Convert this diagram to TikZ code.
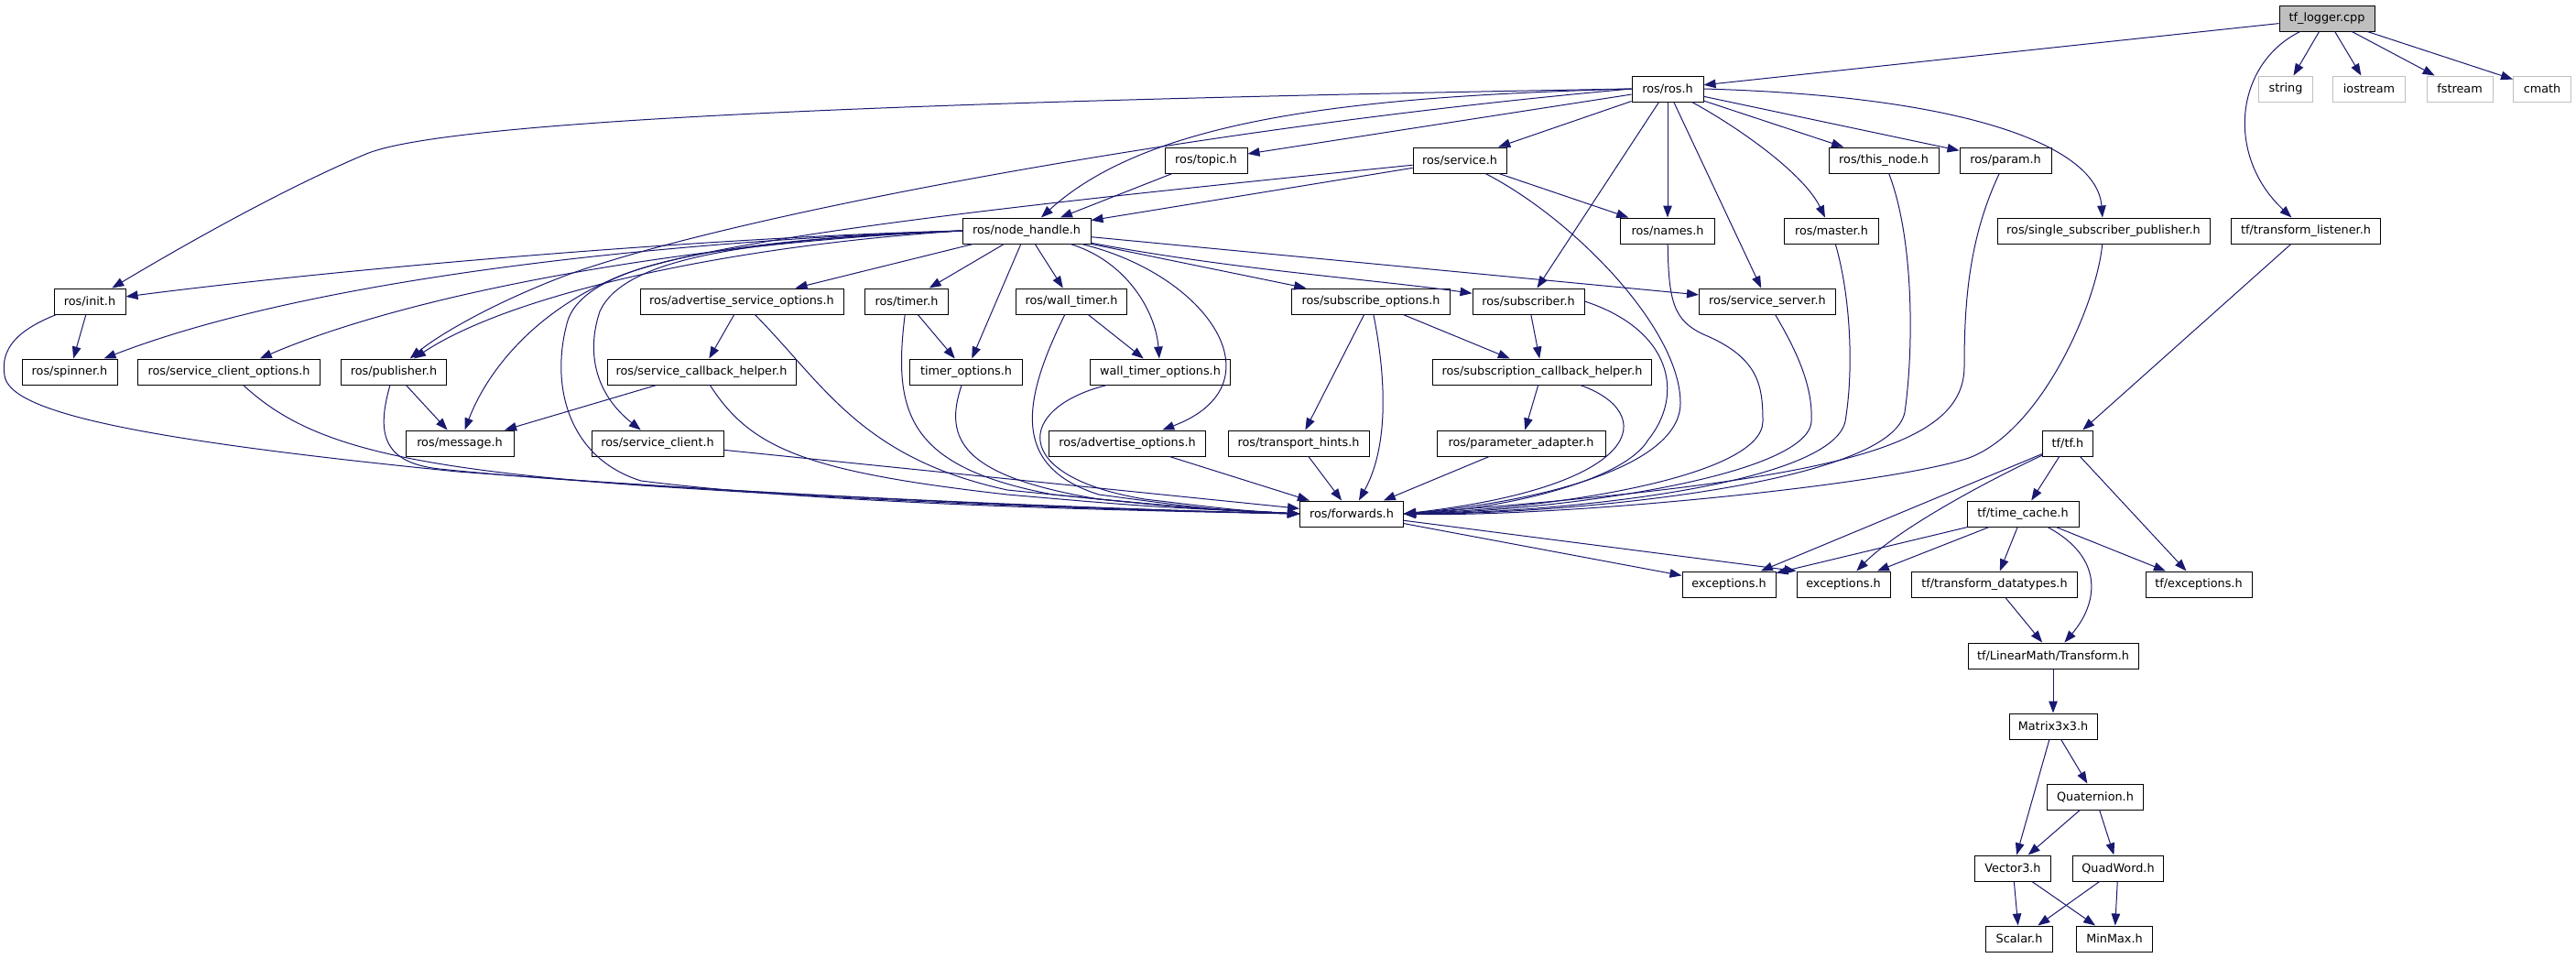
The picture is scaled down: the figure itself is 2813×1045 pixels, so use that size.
\documentclass[tikz,border=0pt]{standalone}
\usepackage{fontspec}
\setmainfont{DejaVu Sans}
\usetikzlibrary{arrows.meta}
\definecolor{edgec}{HTML}{191970}
\definecolor{grayc}{HTML}{BFBFBF}
\begin{document}
\begin{tikzpicture}[x=1pt,y=-1pt,
  box/.style={draw=black, line width=1pt, fill=white, minimum height=28pt, inner sep=0pt, font=\fontsize{12.8}{15}\selectfont, text=black},
  gbox/.style={box, draw=grayc},
  root/.style={box, fill=grayc},
  e/.style={draw=edgec, line width=1pt, -{Triangle[length=13pt,width=9.5pt]}}]
\fill[white] (0,0) rectangle (2813,1045);
\useasboundingbox (0,0) rectangle (2813,1045);
% nodes
\node[root, minimum width=104pt] (logger) at (2541,20) {tf\_logger.cpp};
\node[box, minimum width=78pt] (ros) at (1821,97) {ros/ros.h};
\node[gbox, minimum width=59pt] (string) at (2496,97) {string};
\node[gbox, minimum width=79pt] (iostream) at (2587,97) {iostream};
\node[gbox, minimum width=72pt] (fstream) at (2686,97) {fstream};
\node[gbox, minimum width=63pt] (cmath) at (2776,97) {cmath};
\node[box, minimum width=90pt] (topic) at (1317,175) {ros/topic.h};
\node[box, minimum width=102pt] (service) at (1594,175) {ros/service.h};
\node[box, minimum width=120pt] (thisnode) at (2057,175) {ros/this\_node.h};
\node[box, minimum width=100pt] (param) at (2190,175) {ros/param.h};
\node[box, minimum width=140pt] (nh) at (1121,252) {ros/node\_handle.h};
\node[box, minimum width=103pt] (names) at (1821,252) {ros/names.h};
\node[box, minimum width=103pt] (master) at (2000,252) {ros/master.h};
\node[box, minimum width=232pt] (ssp) at (2297,252) {ros/single\_subscriber\_publisher.h};
\node[box, minimum width=163pt] (tl) at (2518,252) {tf/transform\_listener.h};
\node[box, minimum width=78pt] (init) at (98,329) {ros/init.h};
\node[box, minimum width=222pt] (aso) at (810,329) {ros/advertise\_service\_options.h};
\node[box, minimum width=91pt] (timer) at (990,329) {ros/timer.h};
\node[box, minimum width=121pt] (walltimer) at (1170,329) {ros/wall\_timer.h};
\node[box, minimum width=173pt] (subopt) at (1497,329) {ros/subscribe\_options.h};
\node[box, minimum width=122pt] (subscriber) at (1669,329) {ros/subscriber.h};
\node[box, minimum width=149pt] (sserver) at (1930,329) {ros/service\_server.h};
\node[box, minimum width=104pt] (spinner) at (76,406) {ros/spinner.h};
\node[box, minimum width=199pt] (sco) at (250,406) {ros/service\_client\_options.h};
\node[box, minimum width=115pt] (publisher) at (430,406) {ros/publisher.h};
\node[box, minimum width=206pt] (sch) at (766,406) {ros/service\_callback\_helper.h};
\node[box, minimum width=123pt] (timeropt) at (1055,406) {timer\_options.h};
\node[box, minimum width=153pt] (wtopt) at (1267,406) {wall\_timer\_options.h};
\node[box, minimum width=239pt] (subcb) at (1684,406) {ros/subscription\_callback\_helper.h};
\node[box, minimum width=118pt] (message) at (502,484) {ros/message.h};
\node[box, minimum width=144pt] (sclient) at (718,484) {ros/service\_client.h};
\node[box, minimum width=171pt] (advopt) at (1231,484) {ros/advertise\_options.h};
\node[box, minimum width=154pt] (transport) at (1418,484) {ros/transport\_hints.h};
\node[box, minimum width=184pt] (paramadapt) at (1661,484) {ros/parameter\_adapter.h};
\node[box, minimum width=55pt] (tftf) at (2258,484) {tf/tf.h};
\node[box, minimum width=113pt] (forwards) at (1476,561) {ros/forwards.h};
\node[box, minimum width=122pt] (timecache) at (2209,561) {tf/time\_cache.h};
\node[box, minimum width=102pt] (exc1) at (1888,638) {exceptions.h};
\node[box, minimum width=102pt] (exc2) at (2013,638) {exceptions.h};
\node[box, minimum width=181pt] (tdt) at (2178,638) {tf/transform\_datatypes.h};
\node[box, minimum width=116pt] (tfexc) at (2401,638) {tf/exceptions.h};
\node[box, minimum width=186pt] (transform) at (2242,716) {tf/LinearMath/Transform.h};
\node[box, minimum width=96pt] (matrix) at (2242,793) {Matrix3x3.h};
\node[box, minimum width=105pt] (quat) at (2288,870) {Quaternion.h};
\node[box, minimum width=83pt] (vector3) at (2198,948) {Vector3.h};
\node[box, minimum width=99pt] (quadword) at (2313,948) {QuadWord.h};
\node[box, minimum width=73pt] (scalar) at (2205,1025) {Scalar.h};
\node[box, minimum width=83pt] (minmax) at (2309,1025) {MinMax.h};
% tf_logger
\draw[e] (logger) -- (ros);
\draw[e] (logger) -- (string);
\draw[e] (logger) -- (iostream);
\draw[e] (logger) -- (fstream);
\draw[e] (logger) -- (cmath);
\draw[e] (logger) .. controls (2440,70) and (2430,170) .. (tl);
% ros.h
\draw[e] (ros.west) .. controls (900,112) and (480,135) .. (400,168) .. controls (300,210) and (180,280) .. (init);
\draw[e] (ros.west) .. controls (1500,105) and (1260,125) .. (nh);
\draw[e] (ros.west) .. controls (1300,140) and (800,235) .. (620,300) .. controls (540,330) and (480,365) .. (publisher);
\draw[e] (ros) -- (topic);
\draw[e] (ros) -- (service);
\draw[e] (ros) -- (subscriber);
\draw[e] (ros) -- (names);
\draw[e] (ros) -- (sserver);
\draw[e] (ros) .. controls (1900,140) and (1970,190) .. (master);
\draw[e] (ros) -- (thisnode);
\draw[e] (ros) -- (param);
\draw[e] (ros.east) .. controls (2150,105) and (2290,160) .. (ssp);
% service.h, topic.h
\draw[e] (service) -- (nh);
\draw[e] (service) -- (names);
\draw[e] (service) .. controls (1200,215) and (800,255) .. (680,300) .. controls (580,340) and (530,410) .. (message);
\draw[e] (service) .. controls (1720,240) and (1835,360) .. (1835,440) .. controls (1835,510) and (1680,548) .. (forwards.east);
\draw[e] (topic) -- (nh);
% node_handle.h
\draw[e] (nh.west) .. controls (800,258) and (400,290) .. (init);
\draw[e] (nh.west) .. controls (750,262) and (350,300) .. (spinner);
\draw[e] (nh.west) .. controls (750,265) and (450,320) .. (sco);
\draw[e] (nh.west) .. controls (800,268) and (560,320) .. (publisher);
\draw[e] (nh.west) .. controls (800,262) and (680,285) .. (655,340) .. controls (640,385) and (650,430) .. (sclient);
\draw[e] (nh.west) .. controls (780,262) and (640,290) .. (620,350) .. controls (600,420) and (620,500) .. (700,525) .. controls (900,550) and (1200,557) .. (forwards.west);
\draw[e] (nh) -- (aso);
\draw[e] (nh) -- (timer);
\draw[e] (nh) -- (timeropt);
\draw[e] (nh) -- (walltimer);
\draw[e] (nh) .. controls (1230,285) and (1262,340) .. (wtopt);
\draw[e] (nh) .. controls (1320,300) and (1400,420) .. (advopt);
\draw[e] (nh) -- (subopt);
\draw[e] (nh) .. controls (1350,295) and (1500,305) .. (subscriber);
\draw[e] (nh) -- (sserver);
% left part
\draw[e] (init) -- (spinner);
\draw[e] (init) .. controls (20,360) and (0,380) .. (5,410) .. controls (10,450) and (150,480) .. (500,515) .. controls (900,545) and (1200,556) .. (forwards.west);
\draw[e] (sco) .. controls (330,480) and (420,510) .. (700,530) .. controls (1000,550) and (1200,556) .. (forwards.west);
\draw[e] (publisher) -- (message);
\draw[e] (publisher) .. controls (412,470) and (415,505) .. (480,512) .. controls (700,535) and (1200,556) .. (forwards.west);
\draw[e] (aso) -- (sch);
\draw[e] (aso) .. controls (900,420) and (940,500) .. (1100,535) .. controls (1300,555) .. (forwards.west);
\draw[e] (sch) -- (message);
\draw[e] (sch) .. controls (820,490) and (880,515) .. (1100,540) .. controls (1250,553) .. (forwards.west);
\draw[e] (sclient) -- (forwards);
\draw[e] (timer) -- (timeropt);
\draw[e] (timer) .. controls (975,450) and (990,510) .. (1150,540) .. controls (1300,555) .. (forwards.west);
\draw[e] (timeropt) .. controls (1030,480) and (1050,520) .. (1200,545) .. controls (1320,556) .. (forwards.west);
\draw[e] (walltimer) -- (wtopt);
\draw[e] (walltimer) .. controls (1115,440) and (1105,510) .. (1200,540) .. controls (1320,556) .. (forwards.west);
\draw[e] (wtopt) .. controls (1110,445) and (1100,520) .. (1250,545) .. controls (1350,557) .. (forwards.west);
\draw[e] (advopt) -- (forwards);
% subscribe side
\draw[e] (subopt) -- (transport);
\draw[e] (subopt) -- (subcb);
\draw[e] (subopt) .. controls (1515,420) and (1515,490) .. (forwards);
\draw[e] (transport) -- (forwards);
\draw[e] (subscriber) -- (subcb);
\draw[e] (subscriber.east) .. controls (1825,360) and (1840,430) .. (1800,480) .. controls (1770,530) and (1620,558) .. (forwards.east);
\draw[e] (subcb) -- (paramadapt);
\draw[e] (subcb) .. controls (1810,450) and (1800,530) .. (forwards.east);
\draw[e] (paramadapt) -- (forwards);
% right part into forwards
\draw[e] (names) .. controls (1822,330) and (1828,350) .. (1860,365) .. controls (1920,390) and (1925,420) .. (1925,460) .. controls (1925,520) and (1700,555) .. (forwards.east);
\draw[e] (sserver) .. controls (1960,380) and (1980,420) .. (1978,460) .. controls (1975,520) and (1700,558) .. (forwards.east);
\draw[e] (master) .. controls (2020,320) and (2025,400) .. (2015,460) .. controls (2000,530) and (1700,560) .. (forwards.east);
\draw[e] (thisnode) .. controls (2090,260) and (2090,380) .. (2080,450) .. controls (2065,530) and (1700,562) .. (forwards.east);
\draw[e] (param) .. controls (2150,260) and (2145,330) .. (2145,400) .. controls (2145,490) and (2000,525) .. (forwards.east);
\draw[e] (ssp) .. controls (2290,330) and (2230,470) .. (2150,500) .. controls (2060,530) and (1700,565) .. (forwards.east);
\draw[e] (forwards) -- (exc1);
\draw[e] (forwards) -- (exc2.north west);
% tf
\draw[e] (tl) -- (tftf);
\draw[e] (tftf) -- (timecache);
\draw[e] (tftf) -- (tfexc);
\draw[e] (tftf) -- (exc1);
\draw[e] (tftf) .. controls (2160,530) and (2070,580) .. (exc2);
\draw[e] (timecache) -- (exc1);
\draw[e] (timecache) -- (exc2);
\draw[e] (timecache) -- (tdt);
\draw[e] (timecache) -- (tfexc);
\draw[e] (timecache) .. controls (2300,610) and (2290,660) .. (transform);
\draw[e] (tdt) -- (transform);
\draw[e] (transform) -- (matrix);
\draw[e] (matrix) -- (quat);
\draw[e] (matrix) -- (vector3);
\draw[e] (quat) -- (vector3);
\draw[e] (quat) -- (quadword);
\draw[e] (vector3) -- (scalar);
\draw[e] (vector3) -- (minmax);
\draw[e] (quadword) -- (scalar);
\draw[e] (quadword) -- (minmax);
\end{tikzpicture}
\end{document}
